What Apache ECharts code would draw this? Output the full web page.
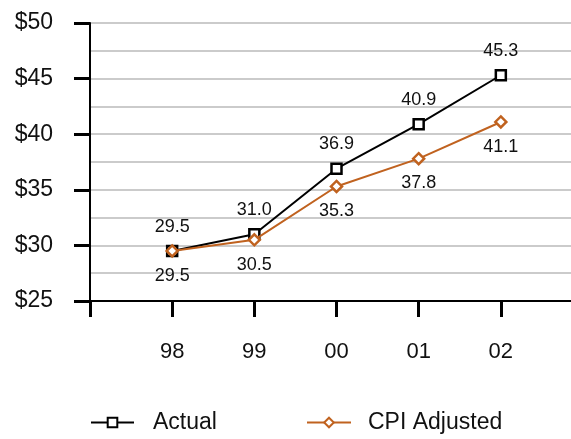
<!DOCTYPE html>
<html>
<head>
<meta charset="utf-8">
<script src="https://cdn.jsdelivr.net/npm/echarts@6/dist/echarts.min.js"></script>
<style>
  html, body { margin: 0; padding: 0; background: #fff; }
  #chart { width: 571px; height: 439px; }
</style>
</head>
<body>
<div id="chart"></div>
<script>
// Years on the x axis; blank slots pad both ends so points sit on tick marks
const years = ['', '98', '99', '00', '01', '02', ''];
const actual = [null, 29.5, 31.0, 36.9, 40.9, 45.3, null];
const cpiAdjusted = [null, 29.5, 30.5, 35.3, 37.8, 41.1, null];
const yTicks = { min: 25, max: 50, step: 5 };

const FONT = 'Liberation Sans, Arial, sans-serif';
const ORANGE = '#c0621f';

const chart = echarts.init(document.getElementById('chart'));
chart.setOption({
  animation: false,
  textStyle: { fontFamily: FONT },
  grid: {
    left: 90, top: 23, right: -12, bottom: 138,
    containLabel: false, outerBoundsMode: 'none'
  },
  xAxis: {
    type: 'category',
    data: years,
    boundaryGap: false,
    axisLine: { lineStyle: { color: '#000', width: 2 } },
    axisTick: { show: true, length: 16, lineStyle: { color: '#000', width: 3 } },
    axisLabel: { color: '#111', fontSize: 22, margin: 40, fontFamily: FONT },
    splitLine: { show: false }
  },
  yAxis: {
    type: 'value',
    min: yTicks.min,
    max: yTicks.max,
    interval: yTicks.step,
    axisLine: { show: true, lineStyle: { color: '#000', width: 2 } },
    axisTick: { show: true, length: 16, lineStyle: { color: '#000', width: 3 } },
    axisLabel: { color: '#111', fontSize: 23, margin: 37, fontFamily: FONT, formatter: v => '$' + v },
    splitLine: { show: true, lineStyle: { color: '#cbcbcb', width: 2 } },
    minorTick: { show: false, splitNumber: 2 },
    minorSplitLine: { show: true, lineStyle: { color: '#cbcbcb', width: 2 } }
  },
  legend: [
    {
      data: ['Actual'],
      left: 90, top: 411, padding: 0,
      itemWidth: 43, itemHeight: 12,
      textStyle: { fontSize: 23, color: '#111', fontFamily: FONT, padding: [0, 0, 0, 14] }
    },
    {
      data: ['CPI Adjusted'],
      left: 306, top: 411, padding: 0,
      itemWidth: 44, itemHeight: 12,
      textStyle: { fontSize: 23, color: '#111', fontFamily: FONT, padding: [0, 0, 0, 12] }
    }
  ],
  series: [
    {
      name: 'Actual',
      type: 'line',
      data: actual,
      symbol: 'rect',
      symbolSize: 10,
      z: 3,
      lineStyle: { color: '#000', width: 2 },
      itemStyle: { color: '#fff', borderColor: '#000', borderWidth: 2.5 },
      label: {
        show: true, position: 'top', distance: 9,
        fontSize: 18, color: '#111', fontFamily: FONT,
        formatter: p => p.value.toFixed(1)
      }
    },
    {
      name: 'CPI Adjusted',
      type: 'line',
      data: cpiAdjusted,
      symbol: 'diamond',
      symbolSize: 11,
      z: 4,
      lineStyle: { color: ORANGE, width: 2 },
      itemStyle: { color: '#fff', borderColor: ORANGE, borderWidth: 2.5 },
      label: {
        show: true, position: 'bottom', distance: 9,
        fontSize: 18, color: '#111', fontFamily: FONT,
        formatter: p => p.value.toFixed(1)
      }
    }
  ]
});
</script>
</body>
</html>
